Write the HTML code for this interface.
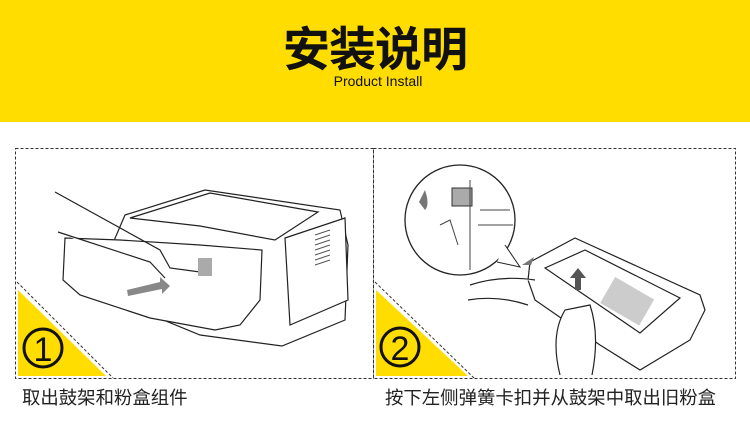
<!DOCTYPE html>
<html><head><meta charset="utf-8"><style>
html,body{margin:0;padding:0;background:#fff}
body{width:750px;height:435px;position:relative;overflow:hidden;font-family:"Liberation Sans","Noto Sans CJK SC",sans-serif}
.hdr{position:absolute;left:0;top:0;width:750px;height:122px;background:#FFDD00}
.t{position:absolute;left:0;width:750px;text-align:center;top:16px;font-size:47px;font-weight:bold;color:#111;font-family:"Noto Sans CJK SC",sans-serif;line-height:60px;letter-spacing:-1px}
.s{position:absolute;left:0;width:750px;text-align:center;top:73px;font-size:14px;color:#111;padding-left:3px}
.cap{position:absolute;top:384px;font-size:18.4px;color:#222;font-family:"Liberation Sans","Noto Sans CJK SC",sans-serif;white-space:nowrap}
</style></head><body>
<div class="hdr"></div>
<div class="t">安装说明</div>
<div class="s">Product Install</div>
<svg width="750" height="435" style="position:absolute;left:0;top:0">
<g fill="none" stroke="#333" stroke-width="1" stroke-dasharray="3,2">
<rect x="15.5" y="148.5" width="358" height="230"/>
<rect x="373.5" y="148.5" width="362" height="230"/>
</g>
<polygon points="18,290 18,376 106,376" fill="#FFDD00"/>
<polygon points="376,290 376,376 468,376" fill="#FFDD00"/>
<g stroke="#333" stroke-dasharray="3,2" fill="none"><line x1="17" y1="282" x2="113" y2="378"/><line x1="375" y1="282" x2="474" y2="378"/></g>
<circle cx="43" cy="348" r="19" fill="none" stroke="#111" stroke-width="3"/>
<text x="43" y="361" font-size="34" text-anchor="middle" font-family="Liberation Sans" fill="#111">1</text>
<circle cx="400" cy="347" r="19" fill="none" stroke="#111" stroke-width="3"/>
<text x="400" y="360" font-size="34" text-anchor="middle" font-family="Liberation Sans" fill="#111">2</text>
<!-- printer -->
<g fill="#fff" stroke="#222" stroke-width="1.2">
<path d="M125 215 L205 190 L340 210 L348 245 L345 320 L282 346 L200 335 L110 298 L105 280 L110 250 Z"/>
<path d="M130 218 L210 193 L318 212 L275 240 L200 226 Z"/>
<path d="M65 238 L63 280 L80 295 L150 318 L215 330 L240 325 L260 300 L262 250 L200 245 L120 240 Z"/>
<path d="M285 238 L345 218 L348 300 L290 325 Z"/>
<path d="M55 192 L160 250 L170 268 L200 272" />
<path d="M58 232 L150 262 L165 278"/>
</g>
<g stroke="#555" fill="none"><path d="M315 235 l15 -5 M315 240 l15 -5 M315 245 l15 -5 M315 250 l15 -5 M315 255 l15 -5 M315 260 l15 -5 M315 265 l15 -5"/></g>
<path d="M127 290 L160 282 L160 277 L170 286 L162 294 L162 289 L128 296 Z" fill="#888"/>
<rect x="198" y="258" width="14" height="18" fill="#aaa"/>
<!-- magnifier -->
<circle cx="460" cy="220" r="55" fill="#fff" stroke="#222" stroke-width="1.3"/>
<path d="M505 245 L520 267 L497 262" fill="#fff" stroke="#222"/>
<path d="M425 190 q5 15 0 20 l-6 -8 z" fill="#777"/>
<rect x="452" y="188" width="20" height="18" fill="#aaa" stroke="#333"/>
<path d="M440 225 l10 -5 l8 25 M470 180 l0 90 M480 210 l30 0 M478 225 l35 0" stroke="#444" fill="none"/>
<!-- drum -->
<g fill="#fff" stroke="#222" stroke-width="1.2">
<path d="M530 262 L575 238 L700 295 L705 310 L690 340 L640 370 L600 345 L535 300 L528 280 Z"/>
<path d="M545 268 L585 250 L680 298 L640 333 Z"/>
<path d="M470 285 q30 -10 65 -5 M468 300 q30 -5 60 5 M560 375 q-10 -40 5 -65 l25 -5 q10 30 2 70"/>
</g>
<rect x="605" y="285" width="45" height="30" fill="#ccc" transform="rotate(30 625 300)"/>
<path d="M575 290 l0 -12 l-5 0 l8 -10 l8 10 l-5 0 l0 12 z" fill="#555"/>
<path d="M522 265 l12 -8 l-3 8 z" fill="#777"/>
</svg>
<div class="cap" style="left:22px">取出鼓架和粉盒组件</div>
<div class="cap" style="left:385px">按下左侧弹簧卡扣并从鼓架中取出旧粉盒</div>
</body></html>
